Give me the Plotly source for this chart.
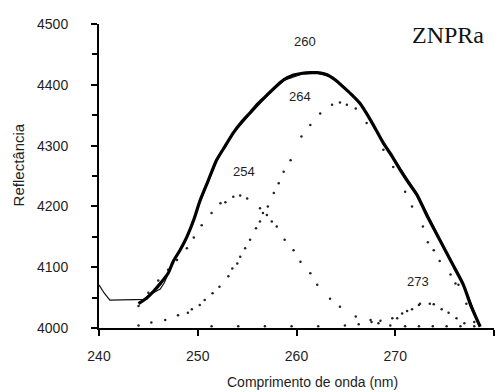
import plotly.graph_objects as go

# Experimental spectrum (thick line)
exp_x = [244.0, 244.8, 245.5, 246.2, 247.0, 247.5, 248.2, 248.9, 249.6, 250.2, 251.0, 251.9,
         252.8, 253.6, 254.4, 255.3, 256.1, 257.0, 257.9, 258.7, 259.7, 260.6, 261.4, 262.1,
         262.8, 263.4, 264.1, 264.7, 265.5, 266.4, 267.5, 268.8, 269.7, 270.5, 271.3, 272.2,
         273.3, 274.5, 275.7, 276.9, 277.7, 278.6]
exp_y = [4040, 4049, 4060, 4073, 4090, 4109, 4128, 4150, 4178, 4208, 4240, 4276,
         4300, 4321, 4338, 4354, 4369, 4383, 4397, 4408, 4416, 4419, 4420, 4420,
         4418, 4414, 4406, 4397, 4385, 4370, 4342, 4304, 4282, 4260, 4240, 4219,
         4182, 4145, 4108, 4071, 4035, 4002]

# Fitted sum (thin line)
fit_x = [240.0, 240.5, 241.1, 241.6, 242.0, 244.8, 245.5, 246.2, 246.6, 247.5, 248.9,
         250.2, 251.9, 253.6, 255.3, 257.0, 258.7, 260.6, 262.1, 263.4, 264.7, 266.4, 268.8,
         270.5, 272.2, 274.5, 276.9, 278.6]
fit_y = [4071, 4058, 4046, 4046, 4047, 4047, 4058, 4064, 4074, 4107, 4150,
         4206, 4274, 4320, 4352, 4381, 4407, 4418, 4419, 4414, 4398, 4371, 4305,
         4262, 4221, 4147, 4072, 4003]

# Gaussian component centred at 254 nm
g254_x = [244.0, 245.0, 246.0, 247.0, 247.9, 248.9, 249.6, 250.4, 251.4, 252.3, 252.8, 253.6,
          254.3, 255.0, 256.3, 256.6, 257.0, 257.5, 258.0, 258.8, 259.7, 260.4, 261.4, 262.1,
          263.4, 264.4, 266.0, 267.5, 268.3, 269.5, 271.0, 272.4, 273.8, 275.2, 276.6]
g254_y = [4036, 4058, 4078, 4096, 4112, 4131, 4149, 4169, 4189, 4205, 4207, 4216,
          4218, 4213, 4197, 4189, 4186, 4175, 4167, 4145, 4128, 4109, 4090, 4071,
          4048, 4035, 4019, 4013, 4008, 4004, 4003, 4003, 4003, 4003, 4003]

# Gaussian component centred at 264 nm
g264_x = [244.0, 245.3, 246.7, 248.0, 249.0, 249.4, 250.2, 250.7, 251.5, 252.2, 253.1, 253.5,
          254.0, 254.3, 254.8, 255.3, 255.9, 256.3, 257.1, 257.7, 258.2, 258.7, 259.4, 260.5,
          261.4, 262.4, 263.6, 264.4, 265.1, 266.0, 267.1, 268.8, 269.8, 271.0, 271.7, 272.8,
          273.3, 273.9, 274.5, 275.6, 276.1, 276.4, 277.2, 278.0]
g264_y = [4004, 4009, 4013, 4021, 4025, 4031, 4038, 4046, 4057, 4068, 4085, 4098,
          4106, 4117, 4131, 4145, 4164, 4175, 4200, 4222, 4238, 4257, 4276, 4315,
          4334, 4353, 4367, 4371, 4367, 4361, 4337, 4293, 4265, 4224, 4200, 4167,
          4141, 4128, 4110, 4088, 4073, 4071, 4040, 4010]

# Gaussian component centred at 273 nm
g273_x = [251.4, 254.1, 256.8, 259.5, 262.2, 264.9, 266.3, 267.6, 268.5, 269.7, 270.2,
          270.7, 271.2, 271.7, 272.4, 272.5, 273.5, 273.9, 274.7, 275.4, 276.2, 277.0, 278.0]
g273_y = [4003, 4003, 4003, 4003, 4003, 4004, 4006, 4010, 4012, 4016, 4016,
          4024, 4028, 4031, 4038, 4040, 4040, 4039, 4031, 4025, 4016, 4008, 4003]

peak_labels = ["260", "264", "254", "273"]
peak_label_x = [260.9, 260.4, 254.7, 272.3]
peak_label_y = [4472, 4380, 4257, 4077]

x_ticks = [240, 250, 260, 270, 280]
y_ticks = [4000, 4100, 4200, 4300, 4400, 4500]

SANS = "Liberation Sans, Arial, sans-serif"
TXT = "#1e1e1e"

fig = go.Figure()

dot_marker = dict(size=2.5, color="#222222")
for gx, gy in [(g254_x, g254_y), (g264_x, g264_y), (g273_x, g273_y)]:
    fig.add_trace(go.Scatter(x=gx, y=gy, mode="markers", marker=dot_marker,
                             showlegend=False, hoverinfo="skip"))

fig.add_trace(go.Scatter(x=fit_x, y=fit_y, mode="lines",
                         line=dict(color="#111111", width=1.2),
                         showlegend=False, hoverinfo="skip"))
fig.add_trace(go.Scatter(x=exp_x, y=exp_y, mode="lines",
                         line=dict(color="#000000", width=3.2, shape="spline", smoothing=0.6),
                         showlegend=False, hoverinfo="skip"))

for t, px, py in zip(peak_labels, peak_label_x, peak_label_y):
    fig.add_annotation(x=px, y=py, text=t, showarrow=False,
                       font=dict(family=SANS, size=13, color=TXT),
                       xanchor="center", yanchor="middle")

fig.add_annotation(x=275.3, y=4482, text="ZNPRa", showarrow=False,
                   font=dict(family="Liberation Serif, Times New Roman, serif", size=24, color="#111111"),
                   xanchor="center", yanchor="middle")

# axis titles
fig.add_annotation(x=261.6, y=-0.178, xref="x", yref="paper", text="Comprimento de onda (nm)",
                   showarrow=False, font=dict(family=SANS, size=14, color=TXT),
                   xanchor="center", yanchor="middle")
fig.add_annotation(x=-0.205, y=0.535, xref="paper", yref="paper", text="Reflectância",
                   showarrow=False, textangle=-90, font=dict(family=SANS, size=15, color=TXT),
                   xanchor="center", yanchor="middle")

fig.update_xaxes(range=[240, 280], tickvals=x_ticks, ticktext=[str(v) for v in x_ticks],
                 showgrid=False, zeroline=False, showline=True, linecolor="black", linewidth=2,
                 ticks="outside", ticklen=6, tickwidth=2, tickcolor="black",
                 tickfont=dict(family=SANS, size=14, color=TXT), ticklabelstandoff=8)
fig.update_yaxes(range=[4000, 4500], tickvals=y_ticks, ticktext=[str(v) for v in y_ticks],
                 showgrid=False, zeroline=False, showline=True, linecolor="black", linewidth=2,
                 ticks="outside", ticklen=6, tickwidth=2, tickcolor="black",
                 minor=dict(dtick=50, ticks="outside", ticklen=5, tickwidth=2, tickcolor="black",
                            showgrid=False),
                 tickfont=dict(family=SANS, size=14, color=TXT), ticklabelstandoff=20)

fig.update_layout(width=502, height=392, margin=dict(l=99, r=8, t=24, b=64),
                  plot_bgcolor="white", paper_bgcolor="white", showlegend=False)

fig.write_html("out.html")
